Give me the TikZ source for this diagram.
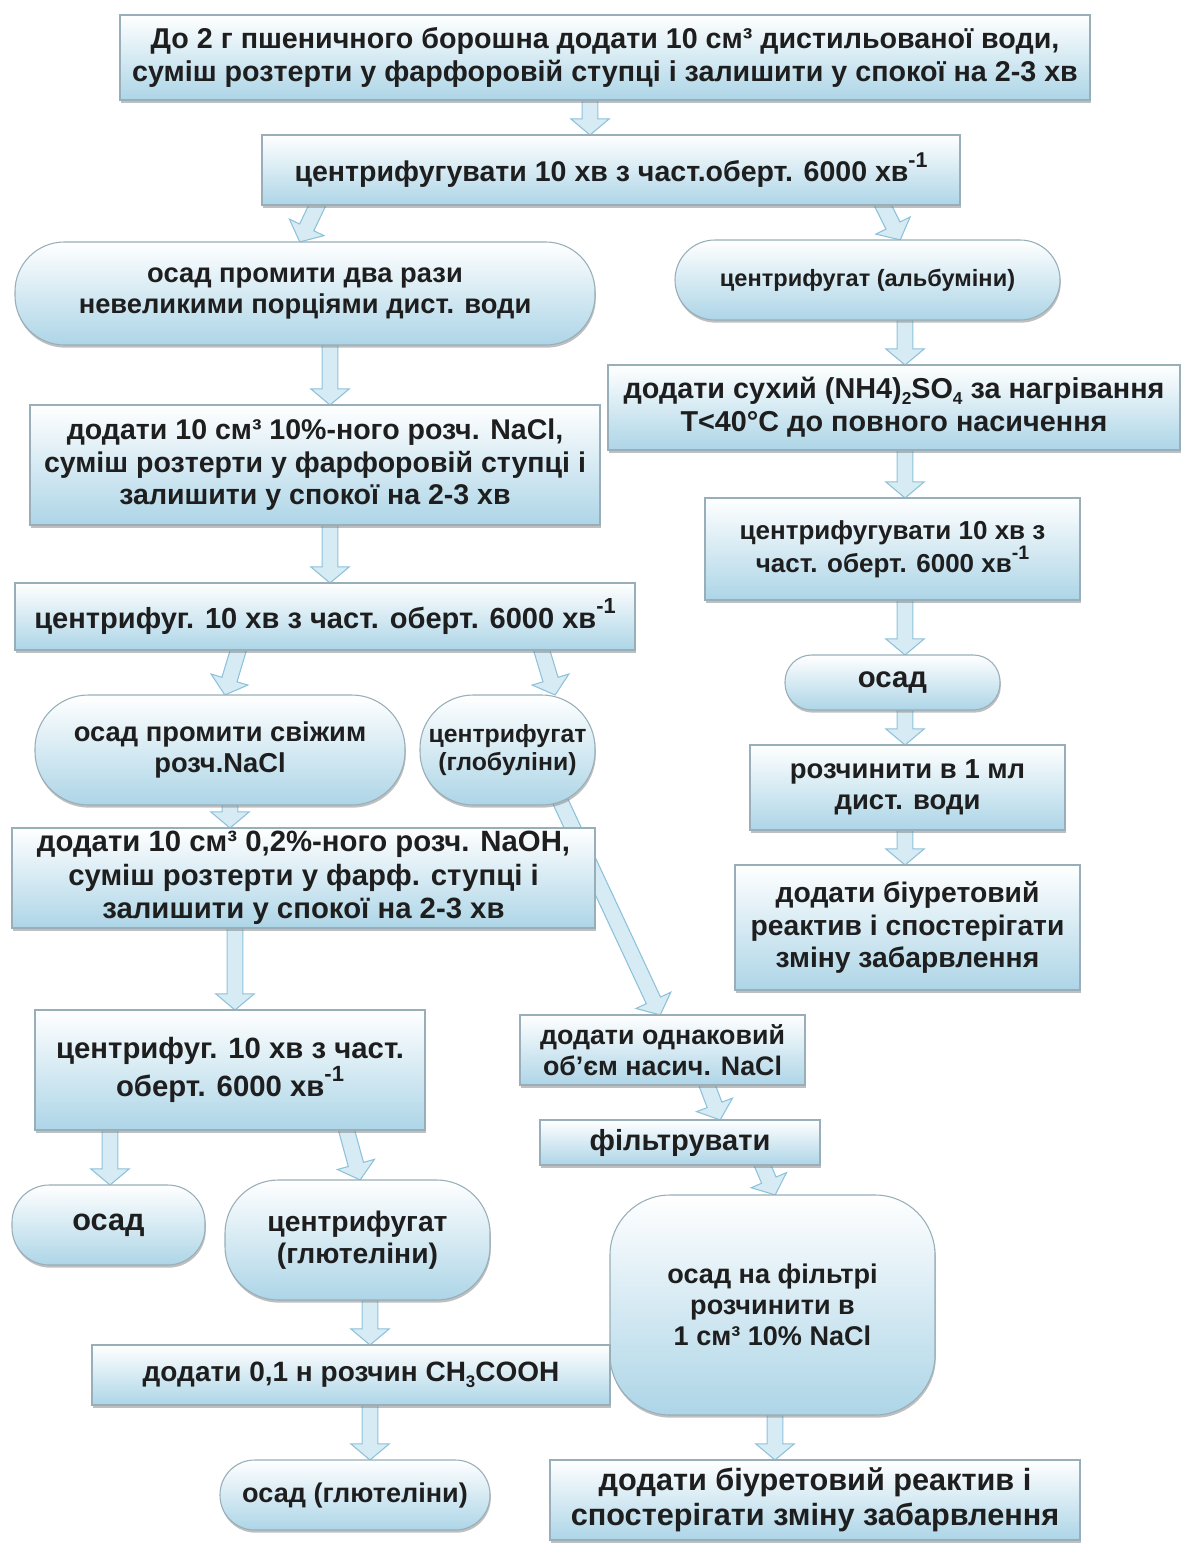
\documentclass[tikz,border=0pt]{standalone}
\usepackage{fontspec}
\setmainfont{Liberation Sans}
\usetikzlibrary{shapes.arrows,shadows,calc}
\definecolor{boxblue}{HTML}{ADD5E7}
\definecolor{boxline}{HTML}{98AEB8}
\definecolor{arrowfill}{HTML}{D6EBF4}
\definecolor{arrowline}{HTML}{8DC2DA}
\definecolor{txt}{HTML}{1E1E1E}
\pgfdeclarelayer{bg}
\pgfsetlayers{bg,main}
\newcommand\supx[1]{\raisebox{0.5em}{\fontsize{0.75em}{0.75em}\selectfont #1}}
\newcommand\subx[1]{\raisebox{-0.2em}{\fontsize{0.6em}{0.6em}\selectfont #1}}
\tikzset{
  base/.style={draw=boxline, line width=0.8pt, top color=white, bottom color=boxblue,
    drop shadow={shadow xshift=0.6pt, shadow yshift=-2pt, fill=black!50},
    align=center, inner sep=2pt, text=txt, sz=21},
  sz/.style={font=\bfseries\fontsize{#1}{#1}\selectfont\setlength\baselineskip{1.14em}},
  box/.style={base, rectangle},
  pill/.style={base, rectangle, rounded corners=#1},
  barrow/.style={single arrow, draw=arrowline, fill=arrowfill, line width=0.8pt,
    inner xsep=0pt, inner ysep=5.5pt, minimum width=28pt,
    single arrow head extend=8.5pt, single arrow tip angle=100}
}
\newcommand\nd[7]{\node[#6, minimum width={(#4-#2)*0.75pt}, minimum height={(#5-#3)*0.75pt}] (#1) at ({(#2+#4)/2},{(#3+#5)/2}) {#7};}
\newcommand\barr[2]{\begin{pgfonlayer}{bg}\path let \p1=(#1), \p2=(#2), \n1={atan2(\y2-\y1,\x2-\x1)}, \n2={veclen(\x2-\x1,\y2-\y1)} in node[barrow, rotate=\n1, minimum height=\n2, anchor=tail] at (\p1) {};\end{pgfonlayer}}
\begin{document}
\begin{tikzpicture}[x=0.75pt,y=-0.75pt]
\useasboundingbox (0,0) rectangle (1185,1549);
\nd{c1}{120}{15}{1090}{100}{box,sz=21.5}{До 2 г пшеничного борошна додати 10 см³ дистильованої води,\\ суміш розтерти у фарфоровій ступці і залишити у спокої на 2-3 хв}
\nd{c2}{262}{135}{960}{205}{box,sz=21.4}{центрифугувати 10 хв з част.оберт. 6000 хв\supx{-1}}
\nd{s3}{15}{242}{595}{345}{pill=37pt,sz=20.5}{осад промити два рази\\ невеликими порціями дист. води}
\nd{s4}{675}{240}{1060}{320}{pill=30pt,sz=17.7}{центрифугат (альбуміни)}
\nd{b5}{30}{405}{600}{525}{box,sz=21.4}{додати 10 см³ 10\%-ного розч. NaCl,\\ суміш розтерти у фарфоровій ступці і\\ залишити у спокої на 2-3 хв}
\nd{b6}{608}{365}{1180}{450}{box,sz=21.6}{додати сухий (NH4)\subx{2}SO\subx{4} за нагрівання\\ T<40°C до повного насичення}
\nd{b7}{705}{498}{1080}{600}{box,sz=19.5}{центрифугувати 10 хв з\\ част. оберт. 6000 хв\supx{-1}}
\nd{b8}{15}{583}{635}{650}{box,sz=21.8}{центрифуг. 10 хв з част. оберт. 6000 хв\supx{-1}}
\nd{s9}{35}{695}{405}{805}{pill=40pt,sz=20.5}{осад промити свіжим\\ розч.NaCl}
\nd{s10}{420}{695}{595}{805}{pill=40pt,sz=18.6}{центрифугат\\ (глобуліни)}
\nd{s11}{785}{655}{1000}{710}{pill=20pt,sz=22}{осад}
\nd{b12}{750}{745}{1065}{830}{box,sz=20.6}{розчинити в 1 мл\\ дист. води}
\nd{b13}{735}{865}{1080}{990}{box,sz=21.2}{додати біуретовий\\ реактив і спостерігати\\ зміну забарвлення}
\nd{b14}{12}{828}{595}{928}{box,sz=22}{додати 10 см³ 0,2\%-ного розч. NaOH,\\ суміш розтерти у фарф. ступці і\\ залишити у спокої на 2-3 хв}
\nd{b15}{520}{1015}{805}{1085}{box,sz=20.1}{додати однаковий\\ об’єм насич. NaCl}
\nd{b16}{35}{1010}{425}{1130}{box,sz=22}{центрифуг. 10 хв з част.\\ оберт. 6000 хв\supx{-1}}
\nd{b17}{540}{1120}{820}{1165}{box,sz=21.8}{фільтрувати}
\nd{s18}{12}{1185}{205}{1265}{pill=28pt,sz=23}{осад}
\nd{s19}{225}{1180}{490}{1300}{pill=40pt,sz=21.2}{центрифугат\\ (глютеліни)}
\nd{r20}{610}{1195}{935}{1415}{pill=45pt,sz=20.3}{осад на фільтрі\\ розчинити в\\ 1 см³ 10\% NaCl}
\nd{b21}{92}{1345}{610}{1405}{box,sz=21}{додати 0,1 н розчин CH\subx{3}COOH}
\nd{s22}{220}{1460}{490}{1530}{pill=26pt,sz=20.3}{осад (глютеліни)}
\nd{b23}{550}{1460}{1080}{1540}{box,sz=23}{додати біуретовий реактив і\\ спостерігати зміну забарвлення}
% arrows
\barr{$(c1.south)+(-15,-6)$}{$(c2.north)+(-21,0)$}
\barr{$(c2.south)+(-291,-6)$}{$(s3.north)+(-5,0)$}
\barr{$(c2.south)+(269,-6)$}{$(s4.north)+(32.5,0)$}
\barr{$(s3.south)+(25,-6)$}{$(b5.north)+(15,0)$}
\barr{$(s4.south)+(37.5,-6)$}{$(b6.north)+(11,0)$}
\barr{$(b6.south)+(11,-6)$}{$(b7.north)+(12.5,0)$}
\barr{$(b5.south)+(15,-6)$}{$(b8.north)+(5,0)$}
\barr{$(b8.south)+(-85,-6)$}{$(s9.north)+(5,0)$}
\barr{$(b8.south)+(215,-6)$}{$(s10.north)+(47.5,0)$}
\barr{$(b7.south)+(12.5,-6)$}{$(s11.north)+(12.5,0)$}
\barr{$(s11.south)+(12.5,-6)$}{$(b12.north)+(-2.5,0)$}
\barr{$(b12.south)+(-2.5,-6)$}{$(b13.north)+(-2.5,0)$}
\barr{$(s9.south)+(10,-6)$}{$(b14.north)+(-73.5,0)$}
\barr{$(s10.south)+(52,-6)$}{$(b15.north)+(-2.5,0)$}
\barr{$(b14.south)+(-68.5,-6)$}{$(b16.north)+(5,0)$}
\barr{$(b16.south)+(-120,-6)$}{$(s18.north)+(1.5,0)$}
\barr{$(b16.south)+(115,-6)$}{$(s19.north)+(2.5,0)$}
\barr{$(b15.south)+(42.5,-6)$}{$(b17.north)+(40,0)$}
\barr{$(b17.south)+(80,-6)$}{$(r20.north)+(2.5,0)$}
\barr{$(s19.south)+(12.5,-6)$}{$(b21.north)+(19,0)$}
\barr{$(b21.south)+(19,-6)$}{$(s22.north)+(15,0)$}
\barr{$(r20.south)+(2.5,-6)$}{$(b23.north)+(-40,0)$}
\end{tikzpicture}
\end{document}
